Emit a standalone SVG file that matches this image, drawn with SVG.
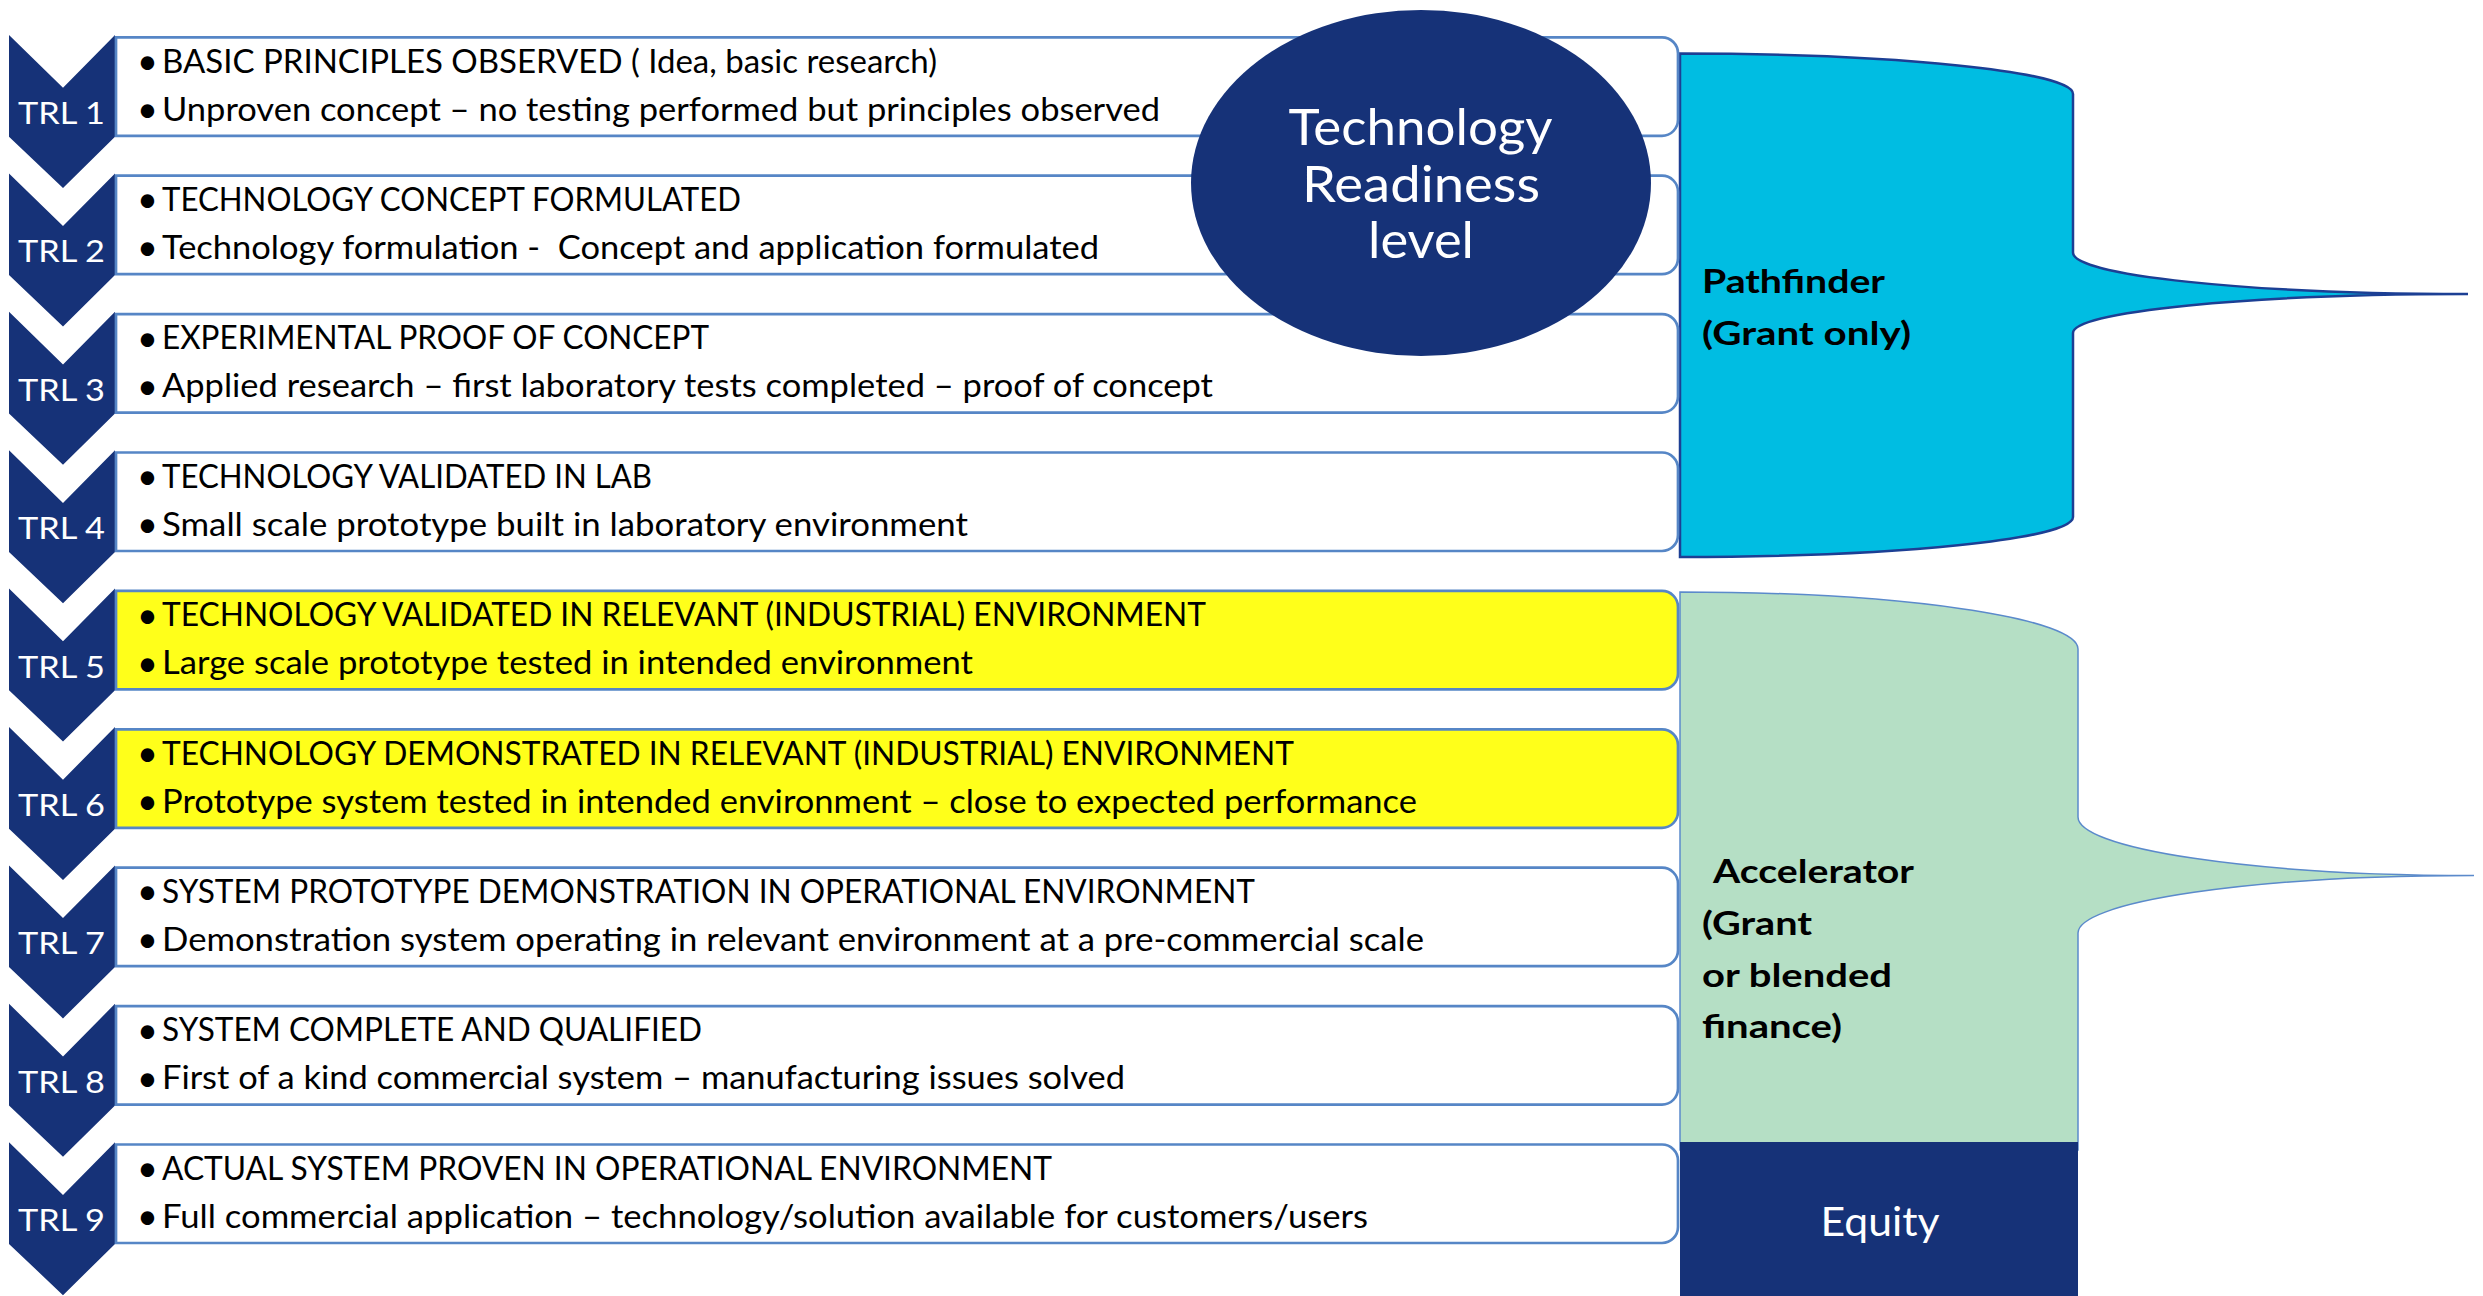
<svg xmlns="http://www.w3.org/2000/svg" xmlns:xlink="http://www.w3.org/1999/xlink" width="2483" height="1296" viewBox="0 0 2483 1296">
<style>
.chev{fill:#163278}
.box{fill:#ffffff;stroke:#5686c6;stroke-width:2.7}
.boxy{fill:#ffff1a;stroke:#5686c6;stroke-width:2.7}
.t{font-family:Lato,"Open Sans",sans-serif;font-size:32px;fill:#000}
.bul{font-family:Lato,"Open Sans",sans-serif;font-size:36px;fill:#000}
.trl{font-family:Lato,"Open Sans",sans-serif;font-size:31px;fill:#fff}
.big{font-family:Lato,"Open Sans",sans-serif;font-size:51px;fill:#fff;text-anchor:middle}
.lbl{font-family:Lato,"Open Sans",sans-serif;font-size:33px;font-weight:bold;fill:#000}
.eq{font-family:Lato,"Open Sans",sans-serif;font-size:41px;fill:#fff;text-anchor:middle}
</style>
<defs>
<path id="chev" d="M9 35 L63 87.7 L115 35 L115 136.7 L63 188 L9 136.7 Z"/>
<path id="box" d="M116 37.3 H1662 A16 16 0 0 1 1678 53.3 V119.8 A16 16 0 0 1 1662 135.8 H116 Z"/>
</defs>
<rect width="2483" height="1296" fill="#ffffff"/>

<g id="pathfinder">
<path d="M1680 53.6 A393 40.4 0 0 1 2073 94 L2073 252.6 A395 41.4 0 0 0 2468 294 A395 39 0 0 0 2073 333 L2073 517 A393 40 0 0 1 1680 557 Z" fill="#00bde2" stroke="#1c3f94" stroke-width="2.5"/>
<text class="lbl" x="1702" y="293" textLength="183" lengthAdjust="spacingAndGlyphs">Pathfinder</text>
<text class="lbl" x="1702" y="345" textLength="209" lengthAdjust="spacingAndGlyphs">(Grant only)</text>
</g>

<g id="accelerator">
<path d="M1680 592 A398 57 0 0 1 2078 649 L2078 817 A396 58.5 0 0 0 2474 875.5 A396 57.5 0 0 0 2078 933 L2078 1150 L1680 1150 Z" fill="#b5dfc5" stroke="#5b8acb" stroke-width="1.5"/>
<text class="lbl" x="1713" y="883" textLength="201" lengthAdjust="spacingAndGlyphs">Accelerator</text>
<text class="lbl" x="1702" y="935" textLength="110" lengthAdjust="spacingAndGlyphs">(Grant</text>
<text class="lbl" x="1702" y="987" textLength="190" lengthAdjust="spacingAndGlyphs">or blended</text>
<text class="lbl" x="1702" y="1038" textLength="140" lengthAdjust="spacingAndGlyphs">finance)</text>
</g>

<g id="equity">
<rect x="1680" y="1142" width="398" height="160" fill="#163278"/>
<text class="eq" x="1880" y="1236" textLength="119" lengthAdjust="spacingAndGlyphs">Equity</text>
</g>

<g id="trl1">
<use xlink:href="#chev" class="chev"/>
<use xlink:href="#box" class="box"/>
<text class="trl" x="18" y="124" textLength="87" lengthAdjust="spacingAndGlyphs">TRL 1</text>
<text class="bul" x="137" y="74">•</text>
<text class="t" x="162" y="72.7" textLength="775" lengthAdjust="spacingAndGlyphs">BASIC PRINCIPLES OBSERVED ( Idea, basic research)</text>
<text class="bul" x="137" y="122">•</text>
<text class="t" x="162" y="120.7" textLength="998" lengthAdjust="spacingAndGlyphs">Unproven concept – no testing performed but principles observed</text>
</g>

<g id="trl2" transform="translate(0,138.4)">
<use xlink:href="#chev" class="chev"/>
<use xlink:href="#box" class="box"/>
<text class="trl" x="18" y="124" textLength="87" lengthAdjust="spacingAndGlyphs">TRL 2</text>
<text class="bul" x="137" y="74">•</text>
<text class="t" x="162" y="72.7" textLength="579" lengthAdjust="spacingAndGlyphs">TECHNOLOGY CONCEPT FORMULATED</text>
<text class="bul" x="137" y="122">•</text>
<text class="t" x="162" y="120.7" textLength="937" lengthAdjust="spacingAndGlyphs" style="white-space:pre">Technology formulation -  Concept and application formulated</text>
</g>

<g id="trl3" transform="translate(0,276.8)">
<use xlink:href="#chev" class="chev"/>
<use xlink:href="#box" class="box"/>
<text class="trl" x="18" y="124" textLength="87" lengthAdjust="spacingAndGlyphs">TRL 3</text>
<text class="bul" x="137" y="74">•</text>
<text class="t" x="162" y="72.7" textLength="547" lengthAdjust="spacingAndGlyphs">EXPERIMENTAL PROOF OF CONCEPT</text>
<text class="bul" x="137" y="122">•</text>
<text class="t" x="162" y="120.7" textLength="1051" lengthAdjust="spacingAndGlyphs">Applied research – first laboratory tests completed – proof of concept</text>
</g>

<g id="trl4" transform="translate(0,415.2)">
<use xlink:href="#chev" class="chev"/>
<use xlink:href="#box" class="box"/>
<text class="trl" x="18" y="124" textLength="87" lengthAdjust="spacingAndGlyphs">TRL 4</text>
<text class="bul" x="137" y="74">•</text>
<text class="t" x="162" y="72.7" textLength="490" lengthAdjust="spacingAndGlyphs">TECHNOLOGY VALIDATED IN LAB</text>
<text class="bul" x="137" y="122">•</text>
<text class="t" x="162" y="120.7" textLength="806" lengthAdjust="spacingAndGlyphs">Small scale prototype built in laboratory environment</text>
</g>

<g id="trl5" transform="translate(0,553.6)">
<use xlink:href="#chev" class="chev"/>
<use xlink:href="#box" class="boxy"/>
<text class="trl" x="18" y="124" textLength="87" lengthAdjust="spacingAndGlyphs">TRL 5</text>
<text class="bul" x="137" y="74">•</text>
<text class="t" x="162" y="72.7" textLength="1044" lengthAdjust="spacingAndGlyphs">TECHNOLOGY VALIDATED IN RELEVANT (INDUSTRIAL) ENVIRONMENT</text>
<text class="bul" x="137" y="122">•</text>
<text class="t" x="162" y="120.7" textLength="811" lengthAdjust="spacingAndGlyphs">Large scale prototype tested in intended environment</text>
</g>

<g id="trl6" transform="translate(0,692)">
<use xlink:href="#chev" class="chev"/>
<use xlink:href="#box" class="boxy"/>
<text class="trl" x="18" y="124" textLength="87" lengthAdjust="spacingAndGlyphs">TRL 6</text>
<text class="bul" x="137" y="74">•</text>
<text class="t" x="162" y="72.7" textLength="1132" lengthAdjust="spacingAndGlyphs">TECHNOLOGY DEMONSTRATED IN RELEVANT (INDUSTRIAL) ENVIRONMENT</text>
<text class="bul" x="137" y="122">•</text>
<text class="t" x="162" y="120.7" textLength="1255" lengthAdjust="spacingAndGlyphs">Prototype system tested in intended environment – close to expected performance</text>
</g>

<g id="trl7" transform="translate(0,830.4)">
<use xlink:href="#chev" class="chev"/>
<use xlink:href="#box" class="box"/>
<text class="trl" x="18" y="124" textLength="87" lengthAdjust="spacingAndGlyphs">TRL 7</text>
<text class="bul" x="137" y="74">•</text>
<text class="t" x="162" y="72.7" textLength="1093" lengthAdjust="spacingAndGlyphs">SYSTEM PROTOTYPE DEMONSTRATION IN OPERATIONAL ENVIRONMENT</text>
<text class="bul" x="137" y="122">•</text>
<text class="t" x="162" y="120.7" textLength="1262" lengthAdjust="spacingAndGlyphs">Demonstration system operating in relevant environment at a pre-commercial scale</text>
</g>

<g id="trl8" transform="translate(0,968.8)">
<use xlink:href="#chev" class="chev"/>
<use xlink:href="#box" class="box"/>
<text class="trl" x="18" y="124" textLength="87" lengthAdjust="spacingAndGlyphs">TRL 8</text>
<text class="bul" x="137" y="74">•</text>
<text class="t" x="162" y="72.7" textLength="540" lengthAdjust="spacingAndGlyphs">SYSTEM COMPLETE AND QUALIFIED</text>
<text class="bul" x="137" y="122">•</text>
<text class="t" x="162" y="120.7" textLength="963" lengthAdjust="spacingAndGlyphs">First of a kind commercial system – manufacturing issues solved</text>
</g>

<g id="trl9" transform="translate(0,1107.2)">
<use xlink:href="#chev" class="chev"/>
<use xlink:href="#box" class="box"/>
<text class="trl" x="18" y="124" textLength="87" lengthAdjust="spacingAndGlyphs">TRL 9</text>
<text class="bul" x="137" y="74">•</text>
<text class="t" x="162" y="72.7" textLength="890" lengthAdjust="spacingAndGlyphs">ACTUAL SYSTEM PROVEN IN OPERATIONAL ENVIRONMENT</text>
<text class="bul" x="137" y="122">•</text>
<text class="t" x="162" y="120.7" textLength="1206" lengthAdjust="spacingAndGlyphs">Full commercial application – technology/solution available for customers/users</text>
</g>

<g id="trl-title">
<ellipse cx="1421" cy="183" rx="230" ry="173" fill="#163278"/>
<text class="big" x="1420.5" y="145.4" textLength="264" lengthAdjust="spacingAndGlyphs">Technology</text>
<text class="big" x="1421" y="202" textLength="238" lengthAdjust="spacingAndGlyphs">Readiness</text>
<text class="big" x="1421" y="258" textLength="106" lengthAdjust="spacingAndGlyphs">level</text>
</g>

<g id="connectors"/>
</svg>
